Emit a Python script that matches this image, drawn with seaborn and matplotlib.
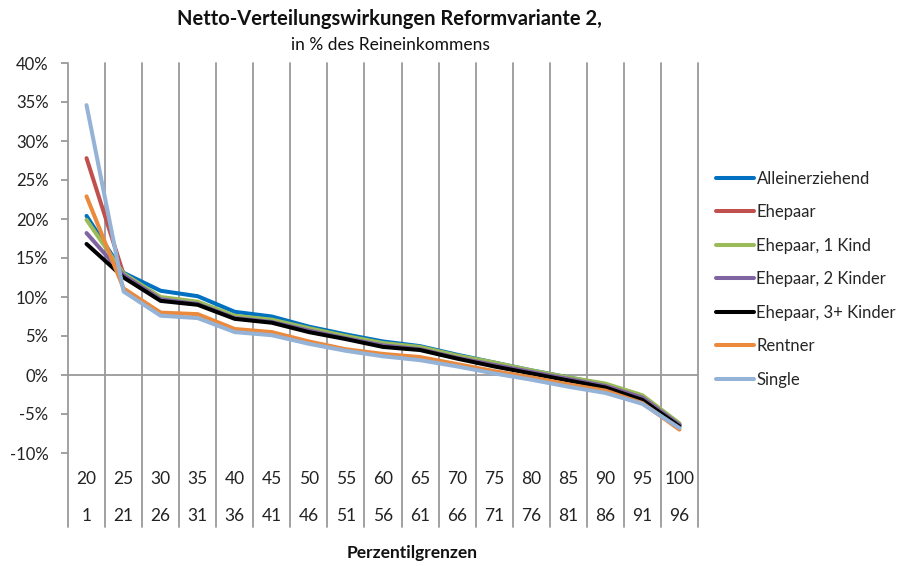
import matplotlib
matplotlib.use("Agg")
import matplotlib.pyplot as plt
import pandas as pd
import seaborn as sns

# Perzentilgrenzen (obere / untere Zeile)
grenzen_oben = ["20", "25", "30", "35", "40", "45", "50", "55", "60", "65",
                "70", "75", "80", "85", "90", "95", "100"]
grenzen_unten = ["1", "21", "26", "31", "36", "41", "46", "51", "56", "61",
                 "66", "71", "76", "81", "86", "91", "96"]

# Werte in % des Reineinkommens
alleinerziehend = [20.4, 13.1, 10.8, 10.1, 8.1, 7.5, 6.2, 5.2, 4.3, 3.7, 2.6, 1.6, 0.6, -0.3, -1.2, -2.7, -6.3]
ehepaar = [27.8, 12.9, 9.8, 9.2, 7.4, 6.9, 5.8, 4.8, 3.9, 3.4, 2.4, 1.4, 0.5, -0.4, -1.3, -2.8, -6.4]
ehepaar_1_kind = [19.9, 13.0, 10.0, 9.4, 7.6, 7.1, 6.0, 5.0, 4.1, 3.6, 2.5, 1.6, 0.6, -0.3, -1.1, -2.6, -6.2]
ehepaar_2_kinder = [18.2, 12.8, 9.7, 9.1, 7.3, 6.8, 5.7, 4.7, 3.8, 3.3, 2.2, 1.3, 0.4, -0.5, -1.4, -2.9, -6.4]
ehepaar_3_kinder = [16.8, 12.5, 9.5, 9.0, 7.2, 6.7, 5.5, 4.6, 3.6, 3.2, 2.1, 1.1, 0.2, -0.7, -1.6, -3.2, -6.6]
rentner = [22.9, 11.1, 8.0, 7.8, 5.9, 5.5, 4.3, 3.3, 2.7, 2.3, 1.4, 0.5, -0.3, -1.2, -2.0, -3.6, -7.0]
single = [34.6, 10.7, 7.6, 7.3, 5.5, 5.1, 4.0, 3.1, 2.4, 1.9, 1.1, 0.2, -0.6, -1.5, -2.3, -3.7, -6.8]

serien = {
    "Alleinerziehend": alleinerziehend,
    "Ehepaar": ehepaar,
    "Ehepaar, 1 Kind": ehepaar_1_kind,
    "Ehepaar, 2 Kinder": ehepaar_2_kinder,
    "Ehepaar, 3+ Kinder": ehepaar_3_kinder,
    "Rentner": rentner,
    "Single": single,
}
farben = {
    "Alleinerziehend": "#0070C0",
    "Ehepaar": "#C0504D",
    "Ehepaar, 1 Kind": "#9BBB59",
    "Ehepaar, 2 Kinder": "#8064A2",
    "Ehepaar, 3+ Kinder": "#000000",
    "Rentner": "#EB8A3C",
    "Single": "#95B3D7",
}

rows = []
for name, werte in serien.items():
    for i, w in enumerate(werte):
        rows.append({"pos": i, "wert": w, "Gruppe": name})
df = pd.DataFrame(rows)

sns.set_style("white")
plt.rcParams["font.family"] = ["Lato", "DejaVu Sans"]
grau = "#9A9A9A"
schrift = 12.5

fig = plt.figure(figsize=(9.03, 5.66), dpi=100)
ax = fig.add_axes([68 / 903, 1 - 453 / 566, 630 / 903, 390 / 566])

sns.lineplot(data=df, x="pos", y="wert", hue="Gruppe", palette=farben,
             linewidth=2.9, sort=False, ax=ax, legend=True)

n = len(grenzen_oben)
ax.set_xlim(-0.5, n - 0.5)
ax.set_ylim(-10, 40)

# vertikale Trennlinien, bis in den Beschriftungsbereich
unten = -(527 - 453) / 390
for k in range(n + 1):
    ax.axvline(k - 0.5, ymin=unten, ymax=1, color=grau, lw=1.3,
               clip_on=False, zorder=0)
ax.axhline(0, color=grau, lw=1.3, zorder=0)

for sp in ax.spines.values():
    sp.set_visible(False)

ax.set_yticks(range(-10, 41, 5))
ax.set_yticklabels([f"{v}%" for v in range(-10, 41, 5)], fontsize=12, color="#222222")
ax.tick_params(axis="y", length=5, width=1.3, color=grau, pad=9, left=True)
ax.set_xticks([])
ax.set_xlabel("")
ax.set_ylabel("")

trans = ax.get_xaxis_transform()
for i in range(n):
    ax.text(i, -(479 - 453) / 390, grenzen_oben[i], transform=trans,
            ha="center", va="center", fontsize=schrift, color="#222222")
    ax.text(i, -(516 - 453) / 390, grenzen_unten[i], transform=trans,
            ha="center", va="center", fontsize=schrift, color="#222222")

fig.text(389 / 903, 1 - 19 / 566, "Netto-Verteilungswirkungen Reformvariante 2,",
         ha="center", va="center", fontsize=14.5, fontweight="bold", color="#111111")
fig.text(390 / 903, 1 - 45 / 566, "in % des Reineinkommens",
         ha="center", va="center", fontsize=12.5, color="#111111")
fig.text(412 / 903, 1 - 553 / 566, "Perzentilgrenzen",
         ha="center", va="center", fontsize=12.5, fontweight="bold", color="#111111")

handles, labels = ax.get_legend_handles_labels()
ax.legend(handles, labels, loc="upper left", bbox_to_anchor=(709 / 903, 1 - 164 / 566),
          bbox_transform=fig.transFigure, frameon=False, fontsize=12,
          handlelength=2.3, handletextpad=0.15, labelspacing=1.05, borderaxespad=0)

fig.savefig("out.png", dpi=100)
